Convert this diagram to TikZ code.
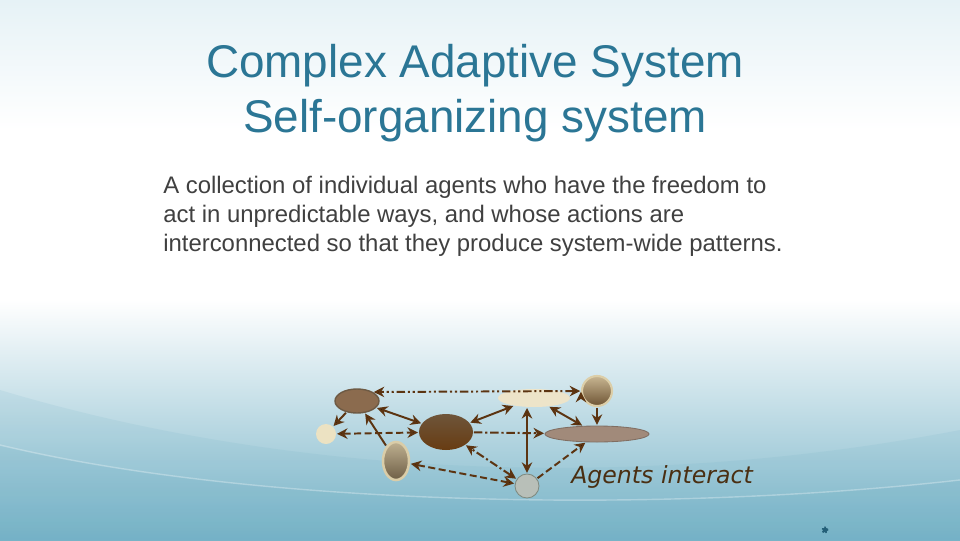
\documentclass[tikz,border=0pt]{standalone}
\usepackage{fontspec}
\setmainfont{Liberation Sans}
\newfontfamily\agentfont{DejaVu Sans}
\usepackage{tikz}
\usetikzlibrary{arrows.meta,positioning,calc,shapes.geometric}
\definecolor{titleblue}{HTML}{2B7695}
\definecolor{bodygray}{HTML}{404040}
\definecolor{linkbrown}{HTML}{5C3411}
\definecolor{gearblue}{HTML}{245F78}
\definecolor{seablue}{HTML}{6AACC2}
\definecolor{seapale}{HTML}{E6F2F6}
\tikzset{
    %Define standard arrow tip
    >={Stealth[length=7.5pt,width=7.5pt]},
    %Define style for agents
    agent/.style={
           ellipse,
           inner sep=0pt},
    % Define arrow style
    pil/.style={
           ->,
           draw=linkbrown,
           line width=1.4pt,
           shorten <=0.5pt,
           shorten >=0.5pt,},
    % dash styles of the links
    dashdot/.style={dash pattern=on 6pt off 2pt on 1.5pt off 2pt},
    dashdotdot/.style={dash pattern=on 6pt off 2pt on 1.5pt off 2pt on 1.5pt off 2pt},
    dashline/.style={dash pattern=on 5pt off 2.5pt}
}

\begin{document}
\begin{tikzpicture}[x=0.025cm,y=-0.025cm]
    \useasboundingbox (0,0) rectangle (960,540);

    % background
    \fill[white] (0,0) rectangle (960,540);
    \fill[top color=seapale, bottom color=white] (0,0) rectangle (960,130);
    \fill[top color=white, bottom color=seablue!90!white] (0,300) rectangle (960,541);
    \fill[seablue, opacity=0.12]
        (0,390) .. controls (300,480) and (650,490) .. (960,430) -- (960,540) -- (0,540) -- cycle;
    \fill[seablue, opacity=0.15]
        (0,445) .. controls (250,505) and (650,515) .. (960,480) -- (960,540) -- (0,540) -- cycle;
    \draw[white, opacity=0.3, line width=1pt]
        (0,445) .. controls (250,505) and (650,515) .. (960,480);

    % title and text
    \node[anchor=north, inner sep=0pt, align=center, text=titleblue,
          font=\fontsize{32.6}{39}\selectfont] (title) at (475,44)
        {Complex Adaptive System\\Self-organizing system};
    \node[anchor=north west, inner sep=0pt, align=left, text=bodygray,
          font=\fontsize{17}{20.6}\selectfont] (body) at (163,176)
        {A collection of individual agents who have the freedom to\\
         act in unpredictable ways, and whose actions are\\
         interconnected so that they produce system-wide patterns.};

    % agents
    \node[agent, minimum width=1.1cm, minimum height=0.6cm, fill={rgb,255:red,139;green,107;blue,78},
          draw={rgb,255:red,110;green,90;blue,68}, line width=1pt] (agA) at (357,401) {};
    \node[agent, circle, minimum size=0.5cm, fill={rgb,255:red,236;green,226;blue,194}] (agB) at (326,434) {};
    \node[agent, minimum width=1.35cm, minimum height=0.9cm,
          top color={rgb,255:red,110;green,85;blue,58}, bottom color={rgb,255:red,104;green,60;blue,18}] (agC) at (446,432) {};
    \node[agent, minimum width=0.65cm, minimum height=0.95cm,
          top color={rgb,255:red,190;green,176;blue,144}, bottom color={rgb,255:red,110;green,94;blue,70},
          draw={rgb,255:red,218;green,205;blue,168}, line width=1.8pt] (agD) at (396,461) {};
    \node[agent, minimum width=1.8cm, minimum height=0.45cm, fill={rgb,255:red,237;green,228;blue,201}] (agE) at (534,398) {};
    \node[agent, circle, minimum size=0.75cm,
          top color={rgb,255:red,200;green,182;blue,146}, bottom color={rgb,255:red,110;green,84;blue,52},
          draw={rgb,255:red,220;green,206;blue,168}, line width=1.5pt] (agF) at (597,391) {};
    \node[agent, minimum width=2.6cm, minimum height=0.4cm, fill={rgb,255:red,161;green,138;blue,122},
          draw={rgb,255:red,128;green,110;blue,98}, line width=0.6pt] (agG) at (597,434) {};
    \node[agent, circle, minimum size=0.6cm, fill={rgb,255:red,184;green,191;blue,184},
          draw={rgb,255:red,127;green,138;blue,128}, line width=0.6pt] (agH) at (527,486) {};

    \node[anchor=base west, inner sep=0pt, text={rgb,255:red,74;green,47;blue,18},
          font=\agentfont\itshape\fontsize{16.8}{20}\selectfont] (caption) at (571,483) {Agents interact};

    % gear mark
    \node[circle, fill=gearblue, draw=gearblue, line width=1.5pt, dash pattern=on 1pt off 1pt,
          minimum size=0.12cm, inner sep=0pt] (gear) at (825,530) {};

    % edges
    \path[pil] (agF.west) 	edge[<->, dashdotdot] (agA.north east)
               (agA)	edge (agB)
               (agA) 	edge[<->] (agC)
               (agD) 	edge (agA)
               (agB) 	edge[<->, dashline] (agC)
               (agC) 	edge[<->] (agE)
               (agC) 	edge[dashdot] (agG)
               (agH) 	edge[<->, dashdot] (agC)
               (agH) 	edge[<->, dashline] (agD)
               (agH) 	edge[<->] (agH |- agE.south)
               (agE) 	edge[<->] (agG)
               (agF) 	edge (agG)
               (agH) 	edge[dashline] (agG);
\end{tikzpicture}
\end{document}
